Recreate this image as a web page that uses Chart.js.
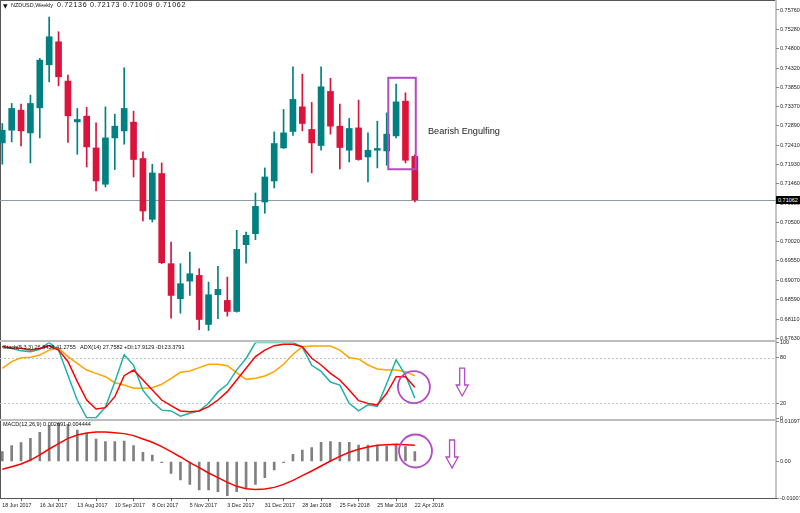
<!DOCTYPE html>
<html><head><meta charset="utf-8">
<script src="https://cdn.jsdelivr.net/npm/chart.js@4.4.1/dist/chart.umd.min.js"></script>
<style>
html,body{margin:0;padding:0;background:#fff;}
#wrap{position:relative;width:800px;height:513px;overflow:hidden;background:#fff;font-family:'Liberation Sans',Arial,sans-serif;}
canvas{position:absolute;left:0;}
.lbl{position:absolute;white-space:nowrap;color:#111;line-height:1;}
.ln{position:absolute;}
</style></head><body>
<div id="wrap">
  <div class="ln" style="left:0;top:0;width:777px;height:1px;background:#555"></div>
  <div class="ln" style="left:0;top:0;width:1px;height:498px;background:#555"></div>
  <div class="ln" style="left:0;top:340px;width:776px;height:2px;background:#bdbdbd"></div>
  <div class="ln" style="left:0;top:419px;width:776px;height:2px;background:#bdbdbd"></div>
  <div class="ln" style="left:775px;top:0;width:2px;height:499px;background:#c4c4c4"></div>
  <canvas id="cMain" width="800" height="340" style="top:0"></canvas>
  <canvas id="cStoch" width="800" height="84" style="top:336px"></canvas>
  <canvas id="cMacd" width="800" height="98" style="top:415px"></canvas>
  <div class="lbl" id="tri" style="left:3px;top:3px;font-size:6px;font-family:'DejaVu Sans'">▼</div>
  <div class="lbl" id="tName">NZDUSD,Weekly</div>
  <div class="lbl" id="tNums">0.72136 0.72173 0.71009 0.71062</div>
  <div class="lbl" id="tStoch">Stoch(5,3,3) 26.8438 41.2755&nbsp;&nbsp; ADX(14) 27.7582 +DI:17.9129 -DI:23.3791</div>
  <div class="lbl" id="tMacd">MACD(12,26,9) 0.002691 0.004444</div>
  <div class="lbl" id="tBear" style="color:#222">Bearish Engulfing</div>
  <div class="lbl" id="tPrice" style="left:776px;top:196px;width:24px;height:8px;background:#000;color:#fff;font-size:5.5px;line-height:8px;padding-left:2px;box-sizing:border-box">0.71062</div>
</div>
<script>
// ---------- DATA ----------
const opens  = [0.72470,0.72785,0.73281,0.72718,0.73338,0.74404,0.74974,0.74000,0.72991,0.73132,0.72346,0.71447,0.72594,0.72768,0.72984,0.72084,0.70579,0.71712,0.69481,0.68613,0.69049,0.69191,0.67976,0.68712,0.68571,0.68298,0.69952,0.70224,0.71008,0.71528,0.72346,0.72753,0.73363,0.72803,0.72406,0.73745,0.72884,0.72289,0.72842,0.72123,0.72289,0.72272,0.72644,0.73504,0.72136];
const highs  = [0.72951,0.73447,0.73430,0.73653,0.74563,0.75586,0.75222,0.74149,0.73323,0.73348,0.72966,0.73363,0.73182,0.74330,0.73256,0.72247,0.71942,0.71975,0.70016,0.69481,0.69768,0.69357,0.69025,0.69414,0.69149,0.70306,0.70264,0.71231,0.71851,0.72743,0.73298,0.74354,0.74173,0.73472,0.74354,0.74067,0.73430,0.73075,0.73529,0.72718,0.73008,0.73214,0.73926,0.73710,0.72173];
const lows   = [0.71942,0.72495,0.72396,0.71975,0.72594,0.73983,0.73883,0.72480,0.72190,0.71875,0.71280,0.71380,0.71811,0.72438,0.71627,0.70537,0.70512,0.69481,0.68132,0.68256,0.68695,0.67845,0.67827,0.68117,0.68182,0.68281,0.69496,0.70076,0.70728,0.71355,0.72332,0.72654,0.72768,0.71727,0.72289,0.72686,0.71826,0.71999,0.72041,0.71504,0.71851,0.71918,0.72594,0.71975,0.71009];
const closes = [0.72785,0.73323,0.72768,0.73447,0.74520,0.75098,0.74107,0.73140,0.73050,0.72371,0.71528,0.72594,0.72884,0.73323,0.72059,0.70785,0.71727,0.69505,0.68695,0.68985,0.69233,0.68100,0.68712,0.68844,0.68298,0.69835,0.70182,0.70901,0.71627,0.72455,0.72718,0.73546,0.72951,0.72470,0.73859,0.72884,0.72356,0.72827,0.72059,0.72289,0.72332,0.72686,0.73487,0.72041,0.71062];
const lastPrice = 0.71062;

const stochMain   = [95,92,89,88,91,100,90,57,24,1,1,15,48,84,70,37,22,11,10,3,7,10,20,35,45,64,79,100,100,100,100,100,94,70,62,48,44,20,10,18,16,46,77,57,26.84];
const stochSignal = [94.5,93.2,92.3,90,92,96,90,75,48.5,24.3,12.5,14.3,28.7,56.3,63.8,50.7,37.5,24.3,16.9,9.9,9,9.9,15.6,24.3,35.3,50.7,66,81.4,90,95.8,97.6,97.6,94.5,79.2,70.4,59.4,50.7,37.5,23.5,19.9,17.8,33.1,55,55,41.28];
const orangeLine  = [66,74.8,80,80.5,83.6,90,92.3,81.4,72.6,63.8,59.4,55,47.1,44.1,39.7,39.7,40.6,45,52.9,60.8,62.5,66.9,71.3,71.3,69.5,60.3,51.5,52.9,55.9,61.6,71.3,84.4,94.5,95.4,95.4,95.4,90,80,78.3,70.4,65.1,63.8,63.8,61.6,56.3];

const macdMain   = [0.0027,0.00435,0.00517,0.00636,0.0080,0.00984,0.01048,0.0102,0.00865,0.00774,0.00618,0.00545,0.00545,0.00563,0.00435,0.00252,0.00179,-0.0003,-0.00325,-0.00508,-0.00627,-0.00783,-0.00783,-0.00829,-0.00938,-0.00829,-0.00737,-0.00627,-0.00444,-0.00234,-0.0003,0.00197,0.00316,0.0038,0.00527,0.00545,0.00527,0.00527,0.00453,0.00453,0.00453,0.00426,0.00453,0.00408,0.002691];
const macdSignal = [-0.00215,-0.00142,-0.00069,0.0004,0.00179,0.00343,0.0049,0.00636,0.00728,0.00783,0.0081,0.0081,0.00792,0.00765,0.0071,0.00618,0.00527,0.00408,0.0027,0.00124,-0.0003,-0.0017,-0.00316,-0.00444,-0.00572,-0.00682,-0.00746,-0.00765,-0.00755,-0.0071,-0.00627,-0.00517,-0.00389,-0.00261,-0.00124,0.00014,0.00142,0.00252,0.00334,0.00398,0.00444,0.00462,0.00472,0.00462,0.004444];

const priceTicks = ['0.75760','0.75280','0.74800','0.74320','0.73850','0.73370','0.72890','0.72410','0.71930','0.71460','0.70980','0.70500','0.70020','0.69550','0.69070','0.68590','0.68110','0.67630'];
const stochTicks = [100,80,20,0];
const stochLevels = [80,20];
const macdTicks = ['0.010975','0.00','-0.010071'];
const timeTickIndex = [0,4,8,12,16,20,24,28,32,36,40,44];
const timeTickLabels = ['18 Jun 2017','16 Jul 2017','13 Aug 2017','10 Sep 2017','8 Oct 2017','5 Nov 2017','3 Dec 2017','31 Dec 2017','28 Jan 2018','25 Feb 2018','25 Mar 2018','22 Apr 2018'];

// annotations (in data units)
const engulfBox = {x0:41.17, x1:44.1, yTop:0.74082, yBot:0.71818};
const stochCircle = {x:43.9, y:41.4, r:16};
const macdCircle = {x:44.07, y:0.00288, r:16.5};
const stochArrow = {x:49.05, top:66.4, bottom:29.6};
const macdArrow = {x:47.97, top:0.0059, bottom:-0.00179};

// ---------- CONFIG ----------
const BULL = '#008080', BEAR = '#dc143c', ANN = '#b44ac6';
const X_MIN = -0.245, X_MAX = 82.52;
const FONT = {family:"'Liberation Sans', Arial, sans-serif", size:5.5};
Chart.defaults.animation = false;
Chart.defaults.plugins.legend.display = false;
Chart.defaults.plugins.tooltip.enabled = false;
Chart.defaults.responsive = false;
Chart.defaults.maintainAspectRatio = false;

function xAxis(display){
  return {type:'linear', min:X_MIN, max:X_MAX, offset:false, display:display,
    grid:{display:false}, border:{display:false}};
}
function yAxis(min, max, values, labels){
  return {type:'linear', position:'right', min:min, max:max,
    afterBuildTicks: s => { s.ticks = values.map(v => ({value:v})); },
    afterFit: s => { s.width = 24; s.paddingTop = 0; s.paddingBottom = 0; },
    ticks:{font:FONT, color:'#222', padding:1, autoSkip:false,
      callback: (v, i) => labels[i]},
    grid:{display:true, drawOnChartArea:false, tickLength:3, tickColor:'#888', color:'#888'},
    border:{display:false}};
}
const colors = closes.map((c,i) => c >= opens[i] ? BULL : BEAR);

function arrow(ctx, cx, yt, yb){
  const head = 11, hw = 6, sw = 2.5;
  ctx.beginPath();
  ctx.moveTo(cx-sw, yt); ctx.lineTo(cx+sw, yt); ctx.lineTo(cx+sw, yb-head);
  ctx.lineTo(cx+hw, yb-head); ctx.lineTo(cx, yb); ctx.lineTo(cx-hw, yb-head);
  ctx.lineTo(cx-sw, yb-head); ctx.closePath(); ctx.stroke();
}

// MAIN
new Chart(document.getElementById('cMain'), {
  type:'bar',
  data:{datasets:[
    {label:'body', data: closes.map((c,i)=>({x:i, y:[opens[i], c]})), backgroundColor:colors, barThickness:6, grouped:false, order:0, borderWidth:0},
    {label:'wick', data: lows.map((l,i)=>({x:i, y:[l, highs[i]]})), backgroundColor:colors, barThickness:1, grouped:false, order:1, borderWidth:0}
  ]},
  options:{
    layout:{padding:0},
    scales:{x:xAxis(false), y:yAxis(0.675917, 0.760075, priceTicks.map(Number), priceTicks)}
  },
  plugins:[{id:'mainAnn',
    beforeDatasetsDraw(chart){
      const {ctx, chartArea:a, scales:{y}} = chart;
      const py = Math.round(y.getPixelForValue(lastPrice)) + 0.5;
      ctx.save(); ctx.strokeStyle = '#8c9cad'; ctx.lineWidth = 1;
      ctx.beginPath(); ctx.moveTo(a.left, py); ctx.lineTo(a.right, py); ctx.stroke(); ctx.restore();
    },
    afterDatasetsDraw(chart){
      const {ctx, scales:{x,y}} = chart;
      ctx.save(); ctx.strokeStyle = ANN; ctx.lineWidth = 2;
      const x0 = x.getPixelForValue(engulfBox.x0), x1 = x.getPixelForValue(engulfBox.x1);
      const y0 = y.getPixelForValue(engulfBox.yTop), y1 = y.getPixelForValue(engulfBox.yBot);
      ctx.strokeRect(x0, y0, x1-x0, y1-y0); ctx.restore();
    }}]
});

// STOCH
new Chart(document.getElementById('cStoch'), {
  type:'line',
  data:{datasets:[
    {data: stochSignal.map((v,i)=>({x:i,y:v})), borderColor:'#ff0000', borderWidth:1.5, pointRadius:0, tension:0, order:0},
    {data: stochMain.map((v,i)=>({x:i,y:v})), borderColor:'#20b2aa', borderWidth:1.5, pointRadius:0, tension:0, order:1},
    {data: orangeLine.map((v,i)=>({x:i,y:v})), borderColor:'#ffa500', borderWidth:1.5, pointRadius:0, tension:0, order:2}
  ]},
  options:{
    layout:{padding:{top:6.5, bottom:1.5, left:0, right:0}},
    scales:{x:xAxis(false), y:yAxis(0, 100, stochTicks, stochTicks.map(String))}
  },
  plugins:[{id:'stochAnn',
    beforeDatasetsDraw(chart){
      const {ctx, chartArea:a, scales:{y}} = chart;
      ctx.save(); ctx.strokeStyle = '#c4c4c4'; ctx.lineWidth = 1; ctx.setLineDash([2,2]);
      stochLevels.forEach(l => { const py = Math.round(y.getPixelForValue(l)) + 0.5;
        ctx.beginPath(); ctx.moveTo(a.left, py); ctx.lineTo(a.right, py); ctx.stroke(); });
      ctx.restore();
    },
    afterDatasetsDraw(chart){
      const {ctx, scales:{x,y}} = chart;
      ctx.save(); ctx.strokeStyle = ANN; ctx.lineWidth = 1.8;
      ctx.beginPath(); ctx.arc(x.getPixelForValue(stochCircle.x), y.getPixelForValue(stochCircle.y), stochCircle.r, 0, Math.PI*2); ctx.stroke();
      ctx.lineWidth = 1.3;
      arrow(ctx, x.getPixelForValue(stochArrow.x), y.getPixelForValue(stochArrow.top), y.getPixelForValue(stochArrow.bottom));
      ctx.restore();
    }}]
});

// MACD
const xm = xAxis(true);
xm.position = 'bottom';
xm.afterBuildTicks = s => { s.ticks = timeTickIndex.map(v => ({value:v})); };
xm.afterFit = s => { s.height = 14.8; s.paddingLeft = 0; s.paddingRight = 0; };
xm.ticks = {font:{family:FONT.family, size:5.3}, color:'#222', align:'start', padding:1, autoSkip:false, maxRotation:0, minRotation:0,
  callback:(v,i) => timeTickLabels[i]};
xm.grid = {display:true, drawOnChartArea:false, tickLength:3, tickColor:'#666', color:'#666'};
xm.border = {display:true, color:'#555', width:1};
new Chart(document.getElementById('cMacd'), {
  type:'bar',
  data:{datasets:[
    {type:'line', data: macdSignal.map((v,i)=>({x:i,y:v})), borderColor:'#ff0000', borderWidth:1.5, pointRadius:0, tension:0, order:0},
    {type:'bar', data: macdMain.map((v,i)=>({x:i,y:v})), backgroundColor:'#808080', barThickness:2, order:1, borderWidth:0}
  ]},
  options:{
    layout:{padding:{top:6.5, bottom:0, left:0, right:0}},
    scales:{x:xm, y:yAxis(-0.010071, 0.010975, macdTicks.map(Number), macdTicks)}
  },
  plugins:[{id:'macdAnn',
    afterDatasetsDraw(chart){
      const {ctx, scales:{x,y}} = chart;
      ctx.save(); ctx.strokeStyle = ANN; ctx.lineWidth = 1.8;
      ctx.beginPath(); ctx.arc(x.getPixelForValue(macdCircle.x), y.getPixelForValue(macdCircle.y), macdCircle.r, 0, Math.PI*2); ctx.stroke();
      ctx.lineWidth = 1.3;
      arrow(ctx, x.getPixelForValue(macdArrow.x), y.getPixelForValue(macdArrow.top), y.getPixelForValue(macdArrow.bottom));
      ctx.restore();
    }}]
});

// text labels
function place(id, left, cy, w){
  const el = document.getElementById(id);
  el.style.fontSize = '20px';
  const m = el.getBoundingClientRect().width;
  const fs = 20 * w / m;
  el.style.fontSize = fs + 'px'; el.style.lineHeight = fs + 'px';
  el.style.left = left + 'px'; el.style.top = (cy - fs/2) + 'px';
  return fs;
}
function placeSpaced(id, left, cy, fs, w){
  const el = document.getElementById(id);
  el.style.fontSize = fs + 'px'; el.style.lineHeight = fs + 'px';
  const m = el.getBoundingClientRect().width;
  const n = el.textContent.length;
  el.style.letterSpacing = Math.max(0, (w - m) / n) + 'px';
  el.style.left = left + 'px'; el.style.top = (cy - fs/2) + 'px';
}
const titleFs = place('tName', 11, 6, 42);
placeSpaced('tNums', 57, 6, titleFs * 1.3, 129);
place('tStoch', 3, 347.5, 182);
place('tMacd', 3, 425, 88);
place('tBear', 428, 131.5, 72);
</script>
</body></html>
